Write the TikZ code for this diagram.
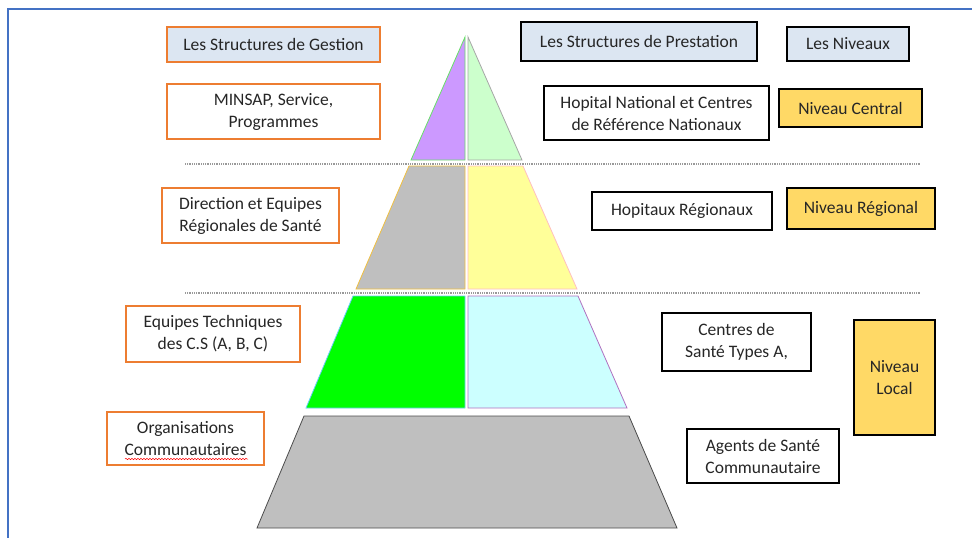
\documentclass[tikz,border=0pt]{standalone}
\usepackage{fontspec}
\setmainfont{Carlito}
\usetikzlibrary{decorations.pathmorphing}
\definecolor{frameblue}{HTML}{4472C4}
\definecolor{gestionorange}{HTML}{ED7D31}
\definecolor{titleblue}{HTML}{DCE6F2}
\definecolor{niveaugold}{HTML}{FFD966}
\definecolor{textgray}{HTML}{262626}
\tikzset{box node/.style={rectangle, draw, line width=1.4pt, inner sep=0pt,
    align=center, text=textgray, font=\fontsize{17.5}{22}\selectfont}}
\tikzset{gestion node/.style={box node, draw=gestionorange, fill=white}}
\tikzset{prestation node/.style={box node, draw=black, fill=white}}
\tikzset{niveau node/.style={prestation node, fill=niveaugold}}
\tikzset{title node/.style={fill=titleblue}}
\tikzset{level separator/.style={draw=gray!80, line width=1.2pt, dash pattern=on 0.9pt off 0.9pt}}
\tikzset{layer/.style={line width=0.8pt}}

\begin{document}
\begin{tikzpicture}[x=1pt, y=-1pt]
      \useasboundingbox (0,0) rectangle (972,538);
      \draw [frameblue, line width=2pt] (8,538) -- (8,9) -- (972,9);

      % the pyramid
      \begin{scope}
        \coordinate (apex) at (466,37);
        \filldraw [layer, fill={rgb,255:red,204;green,153;blue,255}, draw=green!80!black!60]
          (465,37) -- (411,160) -- (465,160) -- cycle;
        \filldraw [layer, fill={rgb,255:red,204;green,255;blue,204}, draw=gray!70]
          (468,37) -- (468,160) -- (522,160) -- cycle;
        \filldraw [layer, fill=gray!50, draw={rgb,255:red,240;green,192;blue,64}]
          (409,166) -- (356,289) -- (465,289) -- (465,166) -- cycle;
        \filldraw [layer, fill={rgb,255:red,255;green,255;blue,153}, draw=pink]
          (468,166) -- (468,289) -- (577,289) -- (523,166) -- cycle;
        \filldraw [layer, fill={rgb,255:red,0;green,255;blue,0}, draw=cyan!60]
          (353,296) -- (306,408) -- (465,408) -- (465,296) -- cycle;
        \filldraw [layer, fill={rgb,255:red,204;green,255;blue,255}, draw={rgb,255:red,176;green,112;blue,192}]
          (468,296) -- (468,408) -- (627,408) -- (578,296) -- cycle;
        \filldraw [layer, fill=gray!50, draw=black!70]
          (304,416) -- (257,528) -- (677,528) -- (629,416) -- cycle;
      \end{scope}

      \coordinate (sep1w) at (185,164);
      \coordinate (sep1e) at (920,164);
      \coordinate (sep2w) at (185,293);
      \coordinate (sep2e) at (920,293);
      \draw [level separator] (sep1w) -- (sep1e);
      \draw [level separator] (sep2w) -- (sep2e);

      % left column
      \node [gestion node, title node, minimum width=213pt, minimum height=35pt] (gestion)   at (273.5,44.5) {Les Structures de Gestion};
      \node [gestion node, minimum width=213pt, minimum height=55pt]             (minsap)    at (273.5,111.5) {MINSAP, Service,\\Programmes};
      \node [gestion node, minimum width=177pt, minimum height=55pt]             (direction) at (250.5,215.5) {Direction et Equipes\\Régionales de Santé};
      \node [gestion node, minimum width=174pt, minimum height=56pt]             (equipes)   at (213,334)     {Equipes Techniques\\des C.S (A, B, C)};
      \node [gestion node, minimum width=157pt, minimum height=53pt]             (orga)      at (185.5,438.5) {Organisations\\Communautaires};

      \coordinate (spellw) at (125,459);
      \coordinate (spelle) at (248,459);
      \draw [red, line width=0.5pt, decorate, decoration={snake, amplitude=0.7pt, segment length=3pt}]
        (spellw) -- (spelle);

      % right columns
      \node [prestation node, title node, minimum width=236pt, minimum height=39pt] (prestation) at (639,41.5) {Les Structures de Prestation};
      \node [prestation node, title node, minimum width=122pt, minimum height=34pt] (niveaux)    at (848,44)   {Les Niveaux};
      \node [prestation node, minimum width=225pt, minimum height=54pt]             (hopital)    at (656.5,113) {Hopital National et Centres\\de Référence Nationaux};
      \node [niveau node, minimum width=143pt, minimum height=38pt]                 (central)    at (850.5,108) {Niveau Central};
      \node [prestation node, minimum width=180pt, minimum height=38pt]             (hopitaux)   at (682,211)   {Hopitaux Régionaux};
      \node [niveau node, minimum width=148pt, minimum height=41pt]                 (regional)   at (861,208.5) {Niveau Régional};
      \node [prestation node, minimum width=149pt, minimum height=58pt]             (centres)    at (736.5,342) {Centres de\\Santé Types A,};
      \node [niveau node, minimum width=81pt, minimum height=115pt]                 (local)      at (894.5,377.5) {Niveau\\Local};
      \node [prestation node, minimum width=152pt, minimum height=54pt]             (agents)     at (763,456)   {Agents de Santé\\Communautaire};
\end{tikzpicture}
\end{document}
